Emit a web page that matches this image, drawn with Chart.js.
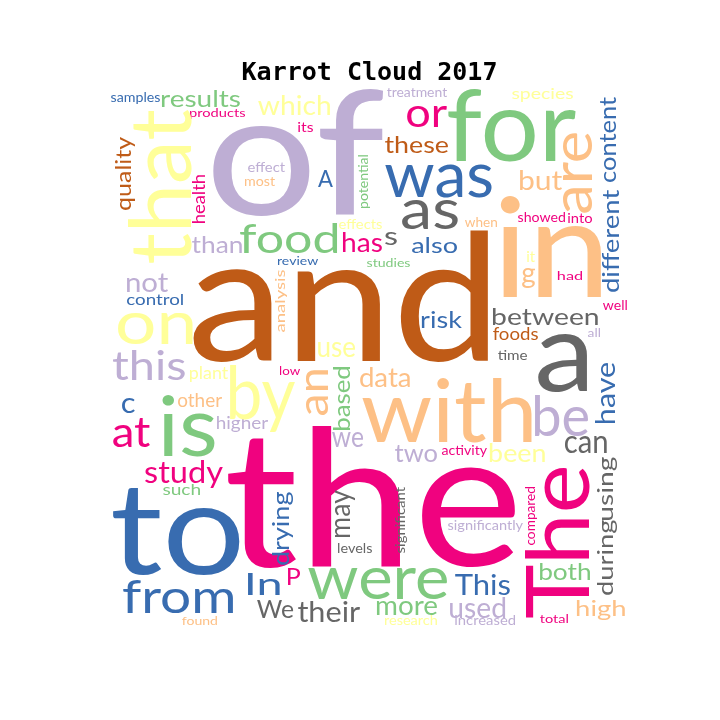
<!DOCTYPE html>
<html>
<head>
<meta charset="utf-8">
<title>Karrot Cloud 2017</title>
<script src="https://cdn.jsdelivr.net/npm/chart.js@4"></script>
<style>
    html, body { margin: 0; padding: 0; background: #ffffff; }
    #wrap { width: 720px; height: 720px; }
</style>
</head>
<body>
<div id="wrap"><canvas id="cloudChart" width="720" height="720"></canvas></div>
<script>
// Word cloud layout: every word has an ink box in
// a 0..720 data space (left, top, right, bottom), a colour slot and a
// flag for words that are turned to read bottom-to-top.
const words = [
    'samples', 'results', 'products', 'that', 'quality', 'health', 'effect', 'most', 'than', 'of',
    'food', 'which', 'its', 'treatment', 'or', 'these', 'A', 'potential', 'was', 'as',
    'effects', 'has', 's', 'also', 'review', 'studies', 'for', 'species', 'are', 'but',
    'content', 'different', 'showed', 'into', 'when', 'it', 'in', 'not', 'control', 'on',
    'this', 'plant', 'c', 'is', 'other', 'higher', 'at', 'and', 'by', 'analysis',
    'risk', 'use', 'low', 'an', 'based', 'data', 'with', 'we', 'the', 'g',
    'had', 'well', 'between', 'foods', 'all', 'time', 'a', 'have', 'be', 'can',
    'study', 'such', 'to', 'from', 'found', 'In', 'We', 'drying', 'two', 'activity',
    'been', 'may', 'levels', 'significant', 'significantly', 'P', 'were', 'their', 'more', 'research',
    'used', 'increased', 'This', 'compared', 'The', 'using', 'during', 'both', 'high', 'total'
];
const wordLeft = [
    111, 162, 190, 128, 115, 192, 248, 245, 192, 213,
    240, 258, 298, 387, 407, 385, 318, 358, 385, 402,
    339, 343, 385, 412, 278, 367, 448, 512, 563, 520,
    600, 602, 518, 568, 465, 527, 500, 127, 127, 118,
    113, 190, 122, 162, 178, 217, 113, 193, 230, 275,
    422, 318, 280, 305, 332, 360, 362, 332, 228, 522,
    558, 603, 493, 493, 588, 498, 538, 595, 535, 565,
    145, 163, 113, 123, 182, 248, 257, 272, 395, 442,
    490, 335, 338, 395, 448, 288, 308, 298, 377, 385,
    450, 455, 455, 525, 525, 598, 598, 540, 577, 540
];
const wordTop = [
    92, 90, 108, 110, 137, 175, 162, 177, 235, 87,
    222, 95, 122, 88, 105, 135, 170, 155, 165, 200,
    219, 232, 232, 237, 257, 258, 88, 88, 133, 170,
    97, 190, 212, 213, 217, 250, 195, 273, 293, 313,
    350, 367, 397, 395, 393, 417, 418, 230, 365, 270,
    310, 342, 366, 370, 367, 367, 378, 432, 425, 268,
    272, 300, 307, 327, 328, 350, 332, 363, 395, 435,
    460, 483, 487, 578, 617, 573, 600, 492, 445, 445,
    443, 490, 543, 487, 520, 568, 568, 600, 600, 615,
    597, 615, 573, 487, 468, 457, 520, 562, 600, 615
];
const wordRight = [
    160, 240, 245, 192, 135, 205, 285, 275, 242, 383,
    337, 330, 313, 447, 447, 448, 333, 370, 492, 458,
    382, 382, 397, 457, 318, 410, 576, 573, 593, 562,
    616, 619, 565, 592, 497, 535, 602, 168, 183, 193,
    185, 228, 135, 215, 222, 268, 150, 488, 295, 287,
    462, 355, 300, 328, 350, 410, 532, 363, 515, 535,
    582, 627, 598, 538, 600, 527, 588, 615, 588, 607,
    223, 200, 240, 233, 217, 280, 293, 293, 437, 487,
    545, 355, 372, 408, 523, 300, 447, 360, 437, 437,
    505, 515, 510, 537, 590, 617, 617, 590, 625, 568
];
const wordBottom = [
    104, 107, 119, 263, 210, 223, 172, 186, 253, 217,
    253, 115, 132, 97, 127, 153, 187, 208, 198, 230,
    229, 252, 245, 253, 265, 267, 162, 102, 213, 190,
    182, 292, 222, 223, 227, 262, 297, 292, 305, 345,
    380, 382, 413, 457, 407, 432, 447, 363, 432, 332,
    328, 357, 375, 415, 430, 387, 443, 447, 568, 288,
    280, 310, 325, 340, 337, 360, 392, 423, 437, 453,
    488, 495, 575, 613, 625, 595, 618, 565, 462, 457,
    462, 537, 553, 553, 533, 585, 600, 622, 615, 625,
    618, 625, 595, 545, 618, 520, 595, 580, 620, 623
];
const wordColour = [
    'blue', 'green', 'pink', 'yellow', 'brown', 'pink', 'purple', 'orange', 'purple', 'purple',
    'green', 'yellow', 'pink', 'purple', 'pink', 'brown', 'blue', 'green', 'blue', 'gray',
    'yellow', 'pink', 'gray', 'blue', 'blue', 'green', 'green', 'yellow', 'orange', 'orange',
    'blue', 'blue', 'pink', 'pink', 'orange', 'yellow', 'orange', 'purple', 'blue', 'yellow',
    'purple', 'yellow', 'blue', 'green', 'orange', 'purple', 'pink', 'brown', 'yellow', 'orange',
    'blue', 'yellow', 'pink', 'orange', 'green', 'orange', 'orange', 'purple', 'pink', 'orange',
    'pink', 'pink', 'gray', 'brown', 'purple', 'gray', 'gray', 'blue', 'purple', 'gray',
    'pink', 'green', 'blue', 'blue', 'orange', 'blue', 'gray', 'blue', 'purple', 'pink',
    'yellow', 'gray', 'gray', 'gray', 'purple', 'pink', 'green', 'gray', 'green', 'yellow',
    'purple', 'purple', 'blue', 'pink', 'pink', 'gray', 'gray', 'green', 'orange', 'pink'
];
const verticalWords = [
    'that', 'quality', 'health', 'potential', 'are', 'content', 'different', 'analysis', 'an', 'based',
    'have', 'drying', 'may', 'significant', 'compared', 'The', 'using', 'during'
];

document.addEventListener('DOMContentLoaded', () => {
    // Accent colour map
    const palette = {
        green: '#7fc97f',
        purple: '#beaed4',
        orange: '#fdc086',
        yellow: '#ffff99',
        blue: '#386cb0',
        pink: '#f0027f',
        brown: '#bf5b17',
        gray: '#666666'
    };
    const wordFont = 'Lato, "Open Sans", sans-serif';
    // left padding moves the title centre to where the reference has it
    const leftPad = 19;

    const points = words.map((w, i) => ({
        x: (wordLeft[i] + wordRight[i]) / 2,
        y: (wordTop[i] + wordBottom[i]) / 2
    }));

    // draws each word so its ink fills the box given through the scales
    const wordPlugin = {
        id: 'wordPlugin',
        afterDatasetsDraw(chart) {
            const ctx = chart.ctx;
            const xs = chart.scales.x;
            const ys = chart.scales.y;
            ctx.save();
            ctx.textAlign = 'left';
            ctx.textBaseline = 'alphabetic';
            ctx.font = '100px ' + wordFont;
            words.forEach((word, i) => {
                const px0 = xs.getPixelForValue(wordLeft[i]);
                const px1 = xs.getPixelForValue(wordRight[i]);
                const py0 = ys.getPixelForValue(wordTop[i]);
                const py1 = ys.getPixelForValue(wordBottom[i]);
                const m = ctx.measureText(word);
                const inkW = m.actualBoundingBoxLeft + m.actualBoundingBoxRight;
                const inkH = m.actualBoundingBoxAscent + m.actualBoundingBoxDescent;
                ctx.save();
                ctx.fillStyle = palette[wordColour[i]];
                if (verticalWords.includes(word)) {
                    ctx.translate(px0, py1);
                    ctx.rotate(-Math.PI / 2);
                    ctx.scale((py1 - py0) / inkW, (px1 - px0) / inkH);
                } else {
                    ctx.translate(px0, py0);
                    ctx.scale((px1 - px0) / inkW, (py1 - py0) / inkH);
                }
                ctx.fillText(word, m.actualBoundingBoxLeft, m.actualBoundingBoxAscent);
                ctx.restore();
            });
            ctx.restore();
        }
    };

    const ctx = document.getElementById('cloudChart').getContext('2d');
    new Chart(ctx, {
        type: 'scatter',
        data: {
            datasets: [{
                label: 'words',
                data: points,
                pointRadius: 0,
                pointHoverRadius: 0
            }]
        },
        options: {
            responsive: false,
            animation: false,
            layout: { padding: { left: leftPad, right: 0, top: 0, bottom: 0 } },
            plugins: {
                legend: { display: false },
                tooltip: { enabled: false },
                title: {
                    display: true,
                    text: 'Karrot Cloud 2017',
                    color: '#000000',
                    font: {
                        family: '"DejaVu Sans Mono", monospace',
                        size: 25,
                        weight: 'bold',
                        lineHeight: 1.2
                    },
                    padding: { top: 58, bottom: 0 }
                }
            },
            scales: {
                x: { type: 'linear', min: leftPad, max: 720, display: false },
                y: { type: 'linear', min: 88, max: 720, reverse: true, display: false }
            }
        },
        plugins: [wordPlugin]
    });
});
</script>
</body>
</html>
